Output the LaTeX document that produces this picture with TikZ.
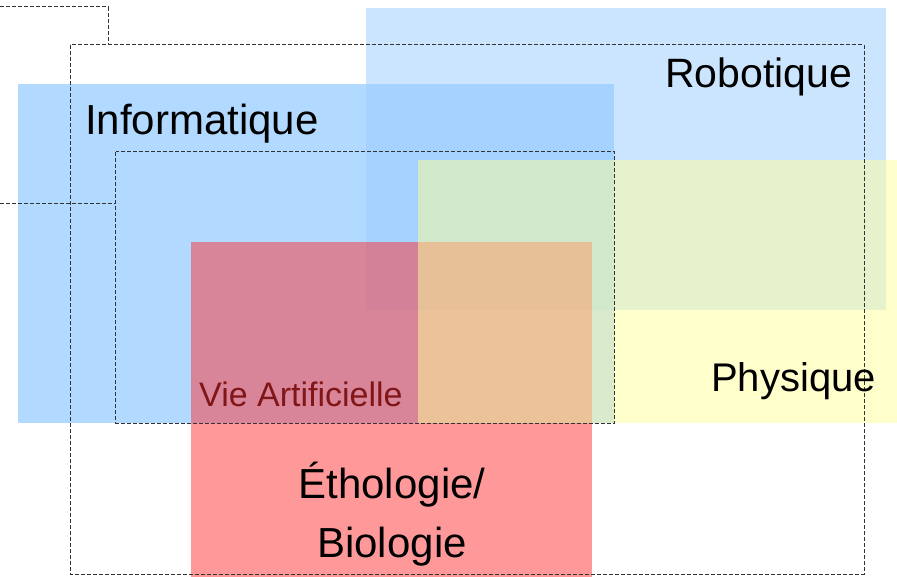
\documentclass[tikz,border=0pt]{standalone}
\usepackage{fontspec}
\setmainfont{Liberation Sans}
\definecolor{infoc}{HTML}{66B3FF}
\definecolor{roboc}{HTML}{99CCFF}
\definecolor{bioc}{HTML}{FF3333}
\definecolor{physc}{HTML}{FFFF99}
\definecolor{vietxt}{RGB}{128,22,24}
\definecolor{dashc}{HTML}{333333}
\tikzset{
  zone/.style={fill opacity=0.5},
  dashline/.style={draw=dashc, line width=1pt, dash pattern=on 4pt off 2pt},
  bigtxt/.style={inner sep=0pt, font=\fontsize{41}{53}\selectfont, text=black},
}
\begin{document}
\begin{tikzpicture}[x=1pt,y=-1pt]
\useasboundingbox (0,0) rectangle (897,577);
% zones
\fill[zone, infoc] (18,84) rectangle (614,423);
\fill[zone, roboc] (366,8) rectangle (886,310);
\fill[zone, bioc] (191,242) rectangle (592,577);
\fill[zone, physc] (418,160) rectangle (897,423);
% dashed outlines
\coordinate (tl0) at (0,7);
\coordinate (tl1) at (108,7);
\coordinate (tl2) at (108,45);
\coordinate (ml0) at (0,204);
\coordinate (ml1) at (115.5,204);
\draw[dashline] (tl0) -- (tl1) -- (tl2);
\draw[dashline] (ml0) -- (ml1);
\draw[dashline] (70,45) rectangle (864,574);
\draw[dashline] (115.5,152) rectangle (614,423);
% labels
\node[bigtxt, font=\fontsize{42}{53}\selectfont, anchor=base west] (info) at (85,135) {Informatique};
\node[bigtxt, anchor=base west] (robo) at (665,88) {Robotique};
\node[bigtxt, font=\fontsize{40}{50}\selectfont, anchor=base west] (phys) at (711,391) {Physique};
\node[inner sep=0pt, anchor=base west, font=\fontsize{34}{40}\selectfont, text=vietxt] (vie) at (199,406) {Vie Artificielle};
\node[bigtxt, font=\fontsize{42}{53}\selectfont, anchor=base, align=center] (etho) at (392,557) {Éthologie/\\[6pt]Biologie};
\end{tikzpicture}
\end{document}
